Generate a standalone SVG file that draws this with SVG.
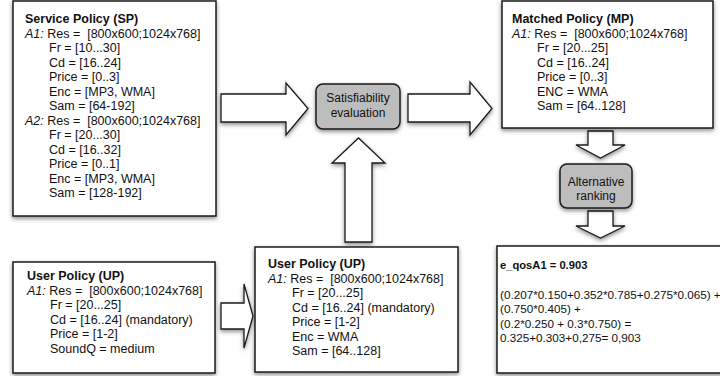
<svg xmlns="http://www.w3.org/2000/svg" width="720" height="376" viewBox="0 0 720 376">
<defs>
<filter id="sh" x="-10%" y="-10%" width="130%" height="130%">
<feDropShadow dx="0" dy="2" stdDeviation="2.2" flood-color="#000" flood-opacity="0.45"/>
</filter>
</defs>
<style>
.box{fill:#fff;stroke:#1a1a1a;stroke-width:1.5;filter:url(#sh)}
.proc{fill:#bdbdbd;stroke:#1a1a1a;stroke-width:1.5;filter:url(#sh)}
.arr{fill:#fff;stroke:#1a1a1a;stroke-width:1.3;stroke-linejoin:miter;filter:url(#sh)}
text{font-family:"Liberation Sans",Arial,sans-serif;font-size:12.5px;fill:#111}
.b{font-weight:bold}
.i{font-style:italic}
.c{text-anchor:middle;font-size:12px}
.f{font-size:11.7px}
.t{font-size:11.2px}
</style>
<rect width="720" height="376" fill="#fff"/>
<g id="connectors">
<path class="arr" d="M221,94 H286 V83 L308,108.5 L286,135 V122 H221 Z"/>
<path class="arr" d="M408,94 H470 V82 L492,108.5 L470,135 V122 H408 Z"/>
<path class="arr" d="M345,242 V163 H332 L358.5,138 L385,163 H372 V242 Z"/>
<path class="arr" d="M588,131 H613 V145 H625 L600.5,158 L576,145 H588 Z"/>
<path class="arr" d="M588,211 H613 V226 H625 L600.5,238 L576,226 H588 Z"/>
<path class="arr" d="M221,303 H244 V284 L253,316 L244,348 V329 H221 Z"/>
</g>
<g id="sp">
<rect class="box" x="13" y="1" width="203" height="215"/>
<text x="25" y="23" class="b">Service Policy (SP)</text>
<text x="25" y="37.5"><tspan class="i">A1:</tspan> Res = &#160;[800x600;1024x768]</text>
<text x="49" y="52">Fr = [10...30]</text>
<text x="49" y="66.5">Cd = [16..24]</text>
<text x="49" y="81">Price = [0..3]</text>
<text x="49" y="95.5">Enc = [MP3, WMA]</text>
<text x="49" y="110">Sam = [64-192]</text>
<text x="25" y="124.5"><tspan class="i">A2:</tspan> Res = &#160;[800x600;1024x768]</text>
<text x="49" y="139">Fr = [20...30]</text>
<text x="49" y="153.5">Cd = [16..32]</text>
<text x="49" y="168">Price = [0..1]</text>
<text x="49" y="182.5">Enc = [MP3, WMA]</text>
<text x="49" y="197">Sam = [128-192]</text>
</g>
<g id="sat">
<rect class="proc" x="316" y="84" width="84" height="45" rx="7"/>
<text x="358" y="102" class="c">Satisfiability</text>
<text x="358" y="117" class="c">evaluation</text>
</g>
<g id="mp">
<rect class="box" x="502" y="1" width="211" height="127"/>
<text x="512" y="23" class="b">Matched Policy (MP)</text>
<text x="512" y="37.5"><tspan class="i">A1:</tspan> Res = &#160;[800x600;1024x768]</text>
<text x="537" y="52">Fr = [20...25]</text>
<text x="537" y="66.5">Cd = [16..24]</text>
<text x="537" y="81">Price = [0..3]</text>
<text x="537" y="95.5">ENC = WMA</text>
<text x="537" y="110">Sam = [64..128]</text>
</g>
<g id="alt">
<rect class="proc" x="560" y="164" width="72" height="44" rx="7"/>
<text x="596" y="186" class="c">Alternative</text>
<text x="596" y="200" class="c">ranking</text>
</g>
<g id="up-left">
<rect class="box" x="13" y="262" width="202" height="111"/>
<text x="27" y="280" class="b">User Policy (UP)</text>
<text x="27" y="294.5"><tspan class="i">A1:</tspan> Res = &#160;[800x600;1024x768]</text>
<text x="50" y="309">Fr = [20...25]</text>
<text x="50" y="323.5">Cd = [16..24] (mandatory)</text>
<text x="50" y="338">Price = [1-2]</text>
<text x="50" y="352.5">SoundQ = medium</text>
</g>
<g id="up-center">
<rect class="box" x="255" y="247" width="203" height="125"/>
<text x="268" y="268" class="b">User Policy (UP)</text>
<text x="268" y="282.5"><tspan class="i">A1:</tspan> Res = &#160;[800x600;1024x768]</text>
<text x="292" y="297">Fr = [20...25]</text>
<text x="292" y="311.5">Cd = [16..24] (mandatory)</text>
<text x="292" y="326">Price = [1-2]</text>
<text x="292" y="340.5">Enc = WMA</text>
<text x="292" y="355">Sam = [64..128]</text>
</g>
<g id="eqos">
<rect class="box" x="497" y="246" width="240" height="127"/>
<text x="500" y="269" class="b t">e_qosA1 = 0.903</text>
<text x="500" y="298.5" class="f">(0.207*0.150+0.352*0.785+0.275*0.065) +</text>
<text x="500" y="313" class="f">(0.750*0.405) +</text>
<text x="500" y="327.5" class="f">(0.2*0.250 + 0.3*0.750) =</text>
<text x="500" y="342" class="f">0.325+0.303+0,275= 0,903</text>
</g>
</svg>
